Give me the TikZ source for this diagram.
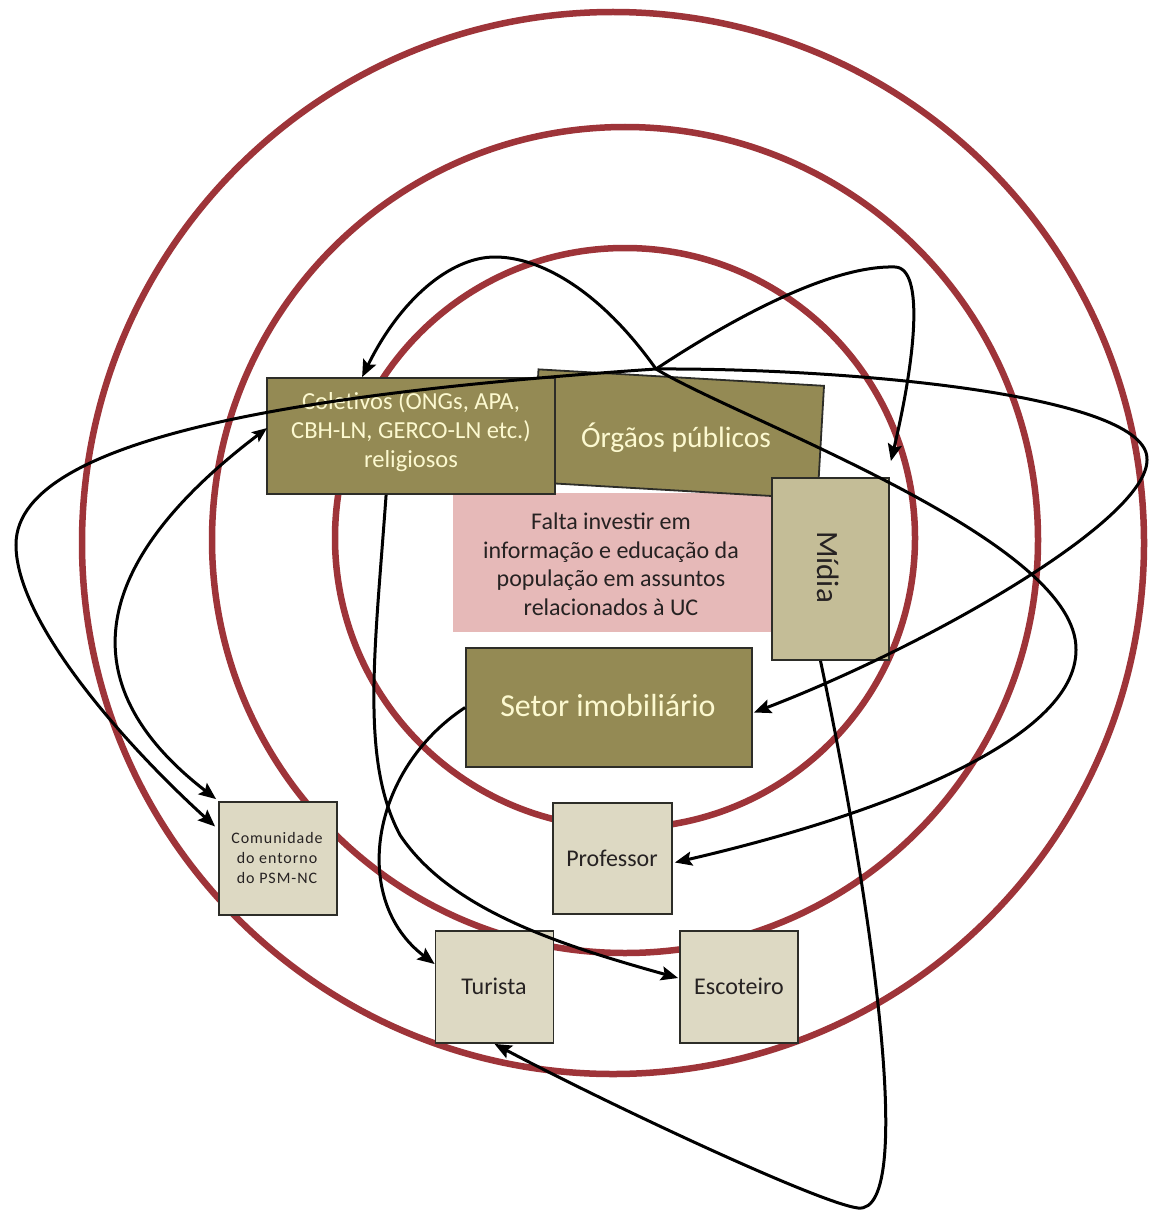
\documentclass[tikz,border=0pt]{standalone}
\usepackage{fontspec}
\setmainfont{Carlito}
\usetikzlibrary{arrows.meta,calc}
\definecolor{ringred}{RGB}{158,52,57}
\definecolor{olivebox}{RGB}{148,138,84}
\definecolor{khakibox}{RGB}{196,189,151}
\definecolor{sandbox}{RGB}{221,217,195}
\definecolor{rosebox}{RGB}{230,185,184}
\definecolor{creamtext}{RGB}{252,249,208}
\definecolor{inktext}{RGB}{38,34,34}
\definecolor{boxedge}{RGB}{45,45,40}
\begin{document}
\begin{tikzpicture}[x=1pt,y=-1pt,
  ringline/.style={draw=ringred,line width=6.5pt},
  darkbox/.style={draw=boxedge,line width=1.8pt,fill=olivebox,inner sep=0pt},
  lightbox/.style={draw=boxedge,line width=1.8pt,fill=sandbox,inner sep=0pt},
  lighttext/.style={text=creamtext,align=center,inner sep=0pt},
  darktext/.style={text=inktext,align=center,inner sep=0pt},
  conn/.style={draw=black,line width=3pt,-{Stealth[length=17pt,width=14pt,inset=3pt]}},
  bothconn/.style={draw=black,line width=3pt,{Stealth[length=15pt,width=12pt,inset=3pt]}-{Stealth[length=17pt,width=14pt,inset=3pt]}}]
\useasboundingbox[fill=white] (0,0) rectangle (1153,1212);

% concentric rings
\draw[ringline] (613,543) circle[radius=531pt];
\draw[ringline] (625,540) circle[radius=413pt];
\draw[ringline] (625,538) circle[radius=290pt];

% boxes
\node[fill=rosebox,inner sep=0pt,minimum width=319pt,minimum height=139pt] (pink) at (612.5,562.5) {};
\node[darkbox,rotate=-3.3,minimum width=286pt,minimum height=113pt] (org) at (678,434) {};
\node[darkbox,minimum width=288pt,minimum height=116pt] (colet) at (411,436) {};
\node[draw=boxedge,line width=1.8pt,fill=khakibox,inner sep=0pt,minimum width=117pt,minimum height=182pt] (midia) at (830.5,569) {};
\node[darkbox,minimum width=286pt,minimum height=119pt] (setor) at (609,707.5) {};
\node[lightbox,minimum width=119pt,minimum height=111pt] (prof) at (612.5,858.5) {};
\node[lightbox,minimum width=118pt,minimum height=113pt] (comun) at (278,858.5) {};
\node[lightbox,minimum width=118pt,minimum height=112pt] (turista) at (494.5,987) {};
\node[lightbox,minimum width=118pt,minimum height=112pt] (escot) at (739,987) {};

% texts
\node[lighttext,font=\fontsize{29.5}{34}\selectfont] (orgtext) at (676,438) {Órgãos públicos};
\node[lighttext,font=\fontsize{24.5}{29}\selectfont] (colettext) at (411,432) {Coletivos (ONGs, APA,\\CBH-LN, GERCO-LN etc.)\\religiosos};
\node[darktext,font=\fontsize{24}{28.5}\selectfont] (pinktext) at (611,564) {Falta investir em\\informação e educação da\\população em assuntos\\relacionados à UC};
\node[darktext,rotate=-90,font=\fontsize{31}{36}\selectfont] (midiatext) at (828,567) {Mídia};
\node[lighttext,font=\fontsize{32}{36}\selectfont] (setortext) at (608,705) {Setor imobiliário};
\node[darktext,font=\fontsize{24}{28}\selectfont] (proftext) at (612,858) {Professor};
\node[darktext,font=\fontsize{24}{28}\selectfont] (turtext) at (494,986) {Turista};
\node[darktext,font=\fontsize{24}{28}\selectfont] (esctext) at (739,986) {Escoteiro};
\node[darktext,font=\fontsize{16}{20}\selectfont\addfontfeature{LetterSpace=6}] (comuntext) at (277,858) {Comunidade\\do entorno\\do PSM-NC};

% connectors
\coordinate (J) at (656,369);
\coordinate (peakL) at (495,257);
\coordinate (peakR) at (895,267);
\coordinate (loopA) at (1147,460);
\coordinate (loopB) at (1076,650);
\coordinate (loopE) at (16,545);
\coordinate (bendG) at (400,835);
\coordinate (loopD) at (858,1208);

% Orgaos -> Coletivos
\draw[conn] (J) .. controls (600,290) and (540,257) .. (peakL)
  .. controls (450,257) and (400,300) .. ($(colet.north west)+(96,0)$);
% Orgaos -> Midia
\draw[conn] (J) .. controls (730,320) and (830,265) .. (peakR)
  .. controls (925,268) and (915,360) .. ($(midia.north east)+(1,-16)$);
% Orgaos -> Setor imobiliario
\draw[conn] (J) .. controls (850,368) and (1150,395) .. (loopA)
  .. controls (1147,520) and (930,645) .. ($(setor.east)+(1,5)$);
% Orgaos -> Professor
\draw[conn] (J) .. controls (740,420) and (1078,540) .. (loopB)
  .. controls (1076,740) and (880,815) .. ($(prof.east)+(2,4)$);
% Orgaos -> Comunidade
\draw[conn] (J) .. controls (350,390) and (15,430) .. (loopE)
  .. controls (16,620) and (120,740) .. ($(comun.west)+(-3,-32)$);
% Coletivos <-> Comunidade
\draw[bothconn] ($(colet.west)+(1,-8)$) .. controls (80,570) and (75,690) .. ($(comun.north west)+(-2,-2)$);
% Coletivos -> Escoteiro
\draw[conn] ($(colet.south west)+(120,0)$) .. controls (375,650) and (360,760) .. (bendG)
  .. controls (450,910) and (560,945) .. ($(escot.west)+(-1,-9)$);
% Setor -> Turista
\draw[conn] (setor.west) .. controls (370,770) and (350,900) .. ($(turista.west)+(0,-23)$);
% Midia -> Turista
\draw[conn] ($(midia.south)+(-10,0)$) .. controls (865,870) and (920,1215) .. (loopD)
  .. controls (818,1203) and (600,1100) .. (turista.south);
\end{tikzpicture}
\end{document}
